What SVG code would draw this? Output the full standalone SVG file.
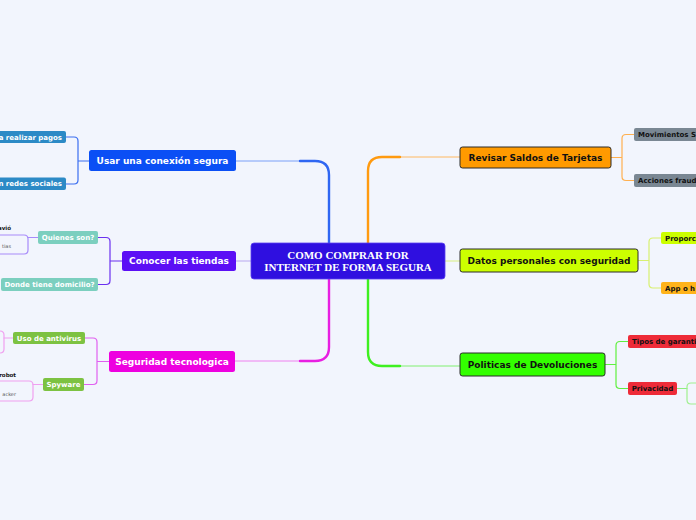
<svg xmlns="http://www.w3.org/2000/svg" width="696" height="520" viewBox="0 0 696 520">
<style>
.t{font-family:"DejaVu Sans",Verdana,sans-serif;font-weight:bold}
.w{fill:#ffffff}
.k{fill:#111111}
.big{font-size:9px}
.sm{font-size:7px}
.c{fill:none;stroke-linecap:round;stroke-linejoin:round}
.bd{stroke:#2a2a2a;stroke-width:1}
</style>
<rect width="696" height="520" fill="#f2f5fd"/>
<g id="connectors">
  <path class="c" d="M236,161 H300" stroke="#7aa0f8" stroke-width="1"/>
  <path class="c" d="M300,161 H315 Q329,161 329,175 V243" stroke="#2f66f2" stroke-width="2.4"/>
  <path class="c" d="M460,157 H400" stroke="#ffb860" stroke-width="1"/>
  <path class="c" d="M400,157 H382 Q368,157 368,171 V243" stroke="#ff9a10" stroke-width="2.4"/>
  <path class="c" d="M235,361 H300" stroke="#f080f0" stroke-width="1"/>
  <path class="c" d="M300,361 H315 Q329,361 329,347 V279" stroke="#e81ee2" stroke-width="2.4"/>
  <path class="c" d="M460,366 H400" stroke="#80f070" stroke-width="1"/>
  <path class="c" d="M400,366 H382 Q368,366 368,352 V279" stroke="#3ef020" stroke-width="2.4"/>
  <path class="c" d="M236,261 H251" stroke="#b8a8f0" stroke-width="1.2"/>
  <path class="c" d="M445,261 H460" stroke="#d8f080" stroke-width="1.2"/>
  <path class="c" d="M89,161 H78 M66,137 H74 Q78,137 78,141 V180 Q78,184 74,184 H66" stroke="#3b6ef0" stroke-width="1.2"/>
  <path class="c" d="M122,261 H110 M98,237.5 H106 Q110,237.5 110,241.5 V280.5 Q110,284.5 106,284.5 H98" stroke="#6a30f0" stroke-width="1.2"/>
  <path class="c" d="M109,361.5 H97 M85,338 H93 Q97,338 97,342 V380.5 Q97,384.5 93,384.5 H84" stroke="#e060f0" stroke-width="1.2"/>
  <path class="c" d="M611,157.5 H622 M634,134.5 H626 Q622,134.5 622,138.5 V176.5 Q622,180.5 626,180.5 H634" stroke="#ffb050" stroke-width="1.2"/>
  <path class="c" d="M638,260.5 H649 M661,238 H653 Q649,238 649,242 V284 Q649,288 653,288 H661" stroke="#d8f070" stroke-width="1.2"/>
  <path class="c" d="M605,364.5 H616 M628,341.5 H620 Q616,341.5 616,345.5 V384.5 Q616,388.5 620,388.5 H628" stroke="#60f040" stroke-width="1.2"/>
  <path class="c" d="M38,237.5 H28" stroke="#a78bfa" stroke-width="1.2"/>
  <path class="c" d="M13,338 H4" stroke="#f0a0f0" stroke-width="1.2"/>
  <path class="c" d="M43,384.5 H33" stroke="#f0a0f0" stroke-width="1.2"/>
  <path class="c" d="M677,388.5 H687" stroke="#90ee80" stroke-width="1.2"/>
</g>
<g id="central">
  <rect x="251" y="243" width="194" height="36" rx="3" fill="#2f0fe0" stroke="#5a40f0" stroke-width="0.8"/>
  <text x="348" y="259" text-anchor="middle" font-family="'Liberation Serif','Times New Roman',serif" font-weight="bold" font-size="11" fill="#ffffff">COMO COMPRAR POR</text>
  <text x="348" y="271" text-anchor="middle" font-family="'Liberation Serif','Times New Roman',serif" font-weight="bold" font-size="11" fill="#ffffff">INTERNET DE FORMA SEGURA</text>
</g>
<g id="usar">
  <rect x="89" y="150" width="147" height="21" rx="2.5" fill="#0b4ff5"/>
  <text class="t w big" x="162.5" y="163.7" text-anchor="middle">Usar una conexión segura</text>
</g>
<g id="pagos">
  <rect x="-6" y="131" width="72" height="12" rx="2" fill="#2c8ac6"/>
  <text class="t w sm" x="62" y="139.5" text-anchor="end">a realizar pagos</text>
</g>
<g id="redes">
  <rect x="-6" y="177.5" width="72" height="12.5" rx="2" fill="#2c8ac6"/>
  <text class="t w sm" x="62" y="186.3" text-anchor="end">n redes sociales</text>
</g>
<g id="conocer">
  <rect x="122" y="251" width="114" height="20" rx="2.5" fill="#5b0ff5"/>
  <text class="t w big" x="179" y="264.2" text-anchor="middle">Conocer las tiendas</text>
</g>
<g id="quienes">
  <rect x="38" y="231" width="60" height="13" rx="2" fill="#7ccfbf"/>
  <text class="t w sm" x="68" y="240.2" text-anchor="middle">Quienes son?</text>
</g>
<g id="quienes-leaf">
  <path class="c" d="M-5,235 H24 Q28,235 28,239 V250 Q28,254 24,254 H-5" stroke="#a78bfa" stroke-width="1.2"/>
  <text class="t k" font-size="5.5" x="11" y="230" text-anchor="end">avió</text>
  <text font-family="'DejaVu Sans',sans-serif" font-size="5" fill="#555555" x="11" y="248" text-anchor="end">tias</text>
</g>
<g id="domicilio">
  <rect x="1" y="278" width="97" height="13" rx="2" fill="#7ccfbf"/>
  <text class="t w sm" x="49.5" y="287.2" text-anchor="middle">Donde tiene domicilio?</text>
</g>
<g id="seguridad">
  <rect x="109" y="351" width="126" height="21" rx="2.5" fill="#ee00e0"/>
  <text class="t w big" x="172" y="364.7" text-anchor="middle">Seguridad tecnologica</text>
</g>
<g id="antivirus">
  <rect x="13" y="332" width="72" height="12" rx="2" fill="#7dc242"/>
  <text class="t w sm" x="49" y="340.5" text-anchor="middle">Uso de antivirus</text>
</g>
<g id="antivirus-leaf">
  <path class="c" d="M-5,331 H0 Q4,331 4,335 V349 Q4,353 0,353 H-5" stroke="#f0a0f0" stroke-width="1.2"/>
</g>
<g id="spyware">
  <rect x="43" y="378" width="41" height="13" rx="2" fill="#7dc242"/>
  <text class="t w sm" x="63.5" y="387.2" text-anchor="middle">Spyware</text>
</g>
<g id="spyware-leaf">
  <path class="c" d="M-5,381 H29 Q33,381 33,385 V397 Q33,401 29,401 H-5" stroke="#f0a0f0" stroke-width="1.2"/>
  <text class="t k" font-size="5.5" x="16" y="377" text-anchor="end">robot</text>
  <text font-family="'DejaVu Sans',sans-serif" font-size="5" fill="#555555" x="16" y="395.5" text-anchor="end">acker</text>
</g>
<g id="revisar">
  <rect x="460" y="147" width="151" height="21" rx="2.5" fill="#ff9a00" class="bd"/>
  <text class="t k big" x="535.5" y="160.7" text-anchor="middle">Revisar Saldos de Tarjetas</text>
</g>
<g id="movimientos">
  <rect x="634" y="128" width="70" height="13" rx="2" fill="#7a8793"/>
  <text class="t k sm" x="638" y="137.2">Movimientos S</text>
</g>
<g id="acciones">
  <rect x="634" y="174" width="70" height="13" rx="2" fill="#7a8793"/>
  <text class="t k sm" x="638" y="183.2">Acciones fraud</text>
</g>
<g id="datos">
  <rect x="460" y="249" width="178" height="23" rx="2.5" fill="#ccff00" class="bd"/>
  <text class="t k big" x="549" y="263.7" text-anchor="middle">Datos personales con seguridad</text>
</g>
<g id="proporc">
  <rect x="661" y="232" width="44" height="12" rx="2" fill="#ccff00"/>
  <text class="t k sm" x="665" y="240.5">Proporc</text>
</g>
<g id="app">
  <rect x="661" y="282" width="44" height="12" rx="2" fill="#ffb31a"/>
  <text class="t k sm" x="665" y="290.5">App o h</text>
</g>
<g id="politicas">
  <rect x="460" y="353" width="145" height="23" rx="2.5" fill="#33ff00" class="bd"/>
  <text class="t k big" x="532.5" y="367.7" text-anchor="middle">Politicas de Devoluciones</text>
</g>
<g id="tipos">
  <rect x="628" y="335" width="76" height="13" rx="2" fill="#ee2b38"/>
  <text class="t k sm" x="632" y="344.2">Tipos de garanti</text>
</g>
<g id="privacidad">
  <rect x="628" y="382" width="49" height="13" rx="2" fill="#ee2b38"/>
  <text class="t k sm" x="652.5" y="391.2" text-anchor="middle">Privacidad</text>
</g>
<g id="privacidad-leaf">
  <path class="c" d="M700,383 H691 Q687,383 687,387 V400 Q687,404 691,404 H700" stroke="#a0f090" stroke-width="1.2"/>
</g>
</svg>
